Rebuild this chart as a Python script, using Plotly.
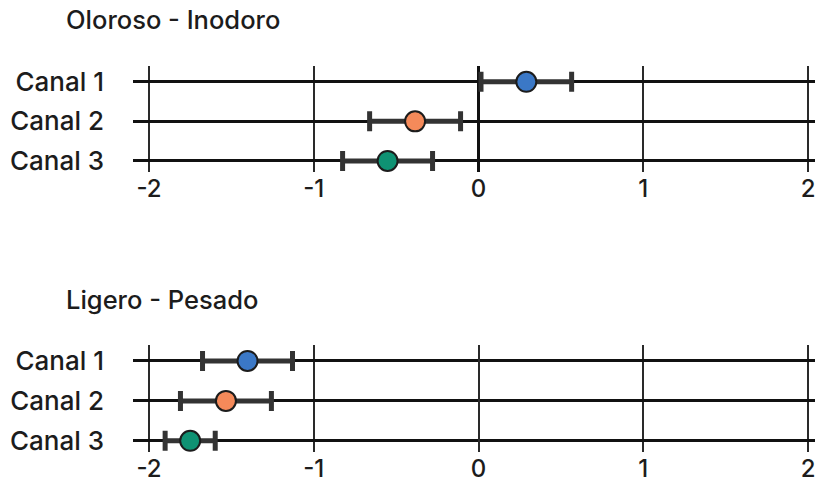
import plotly.graph_objects as go

# Contrast estimates per channel, with half-width of the interval
canales = ["Canal 1", "Canal 2", "Canal 3"]
colores = ["#3b78c6", "#f58a5a", "#0f9273"]

oloroso_media = [0.29, -0.385, -0.552]
oloroso_error = [0.275, 0.276, 0.273]

ligero_media = [-1.402, -1.533, -1.75]
ligero_error = [0.273, 0.276, 0.152]

x_ticks = [-2, -1, 0, 1, 2]
titulos = ["Oloroso - Inodoro", "Ligero - Pesado"]

W, H = 815, 483
FONT = "Inter"
INK = "#1c1c1c"

fig = go.Figure()

paneles = [
    ("x", "y", oloroso_media, oloroso_error),
    ("x2", "y2", ligero_media, ligero_error),
]
for xa, ya, medias, errores in paneles:
    for canal, color, m, e in zip(canales, colores, medias, errores):
        fig.add_trace(go.Scatter(
            x=[m], y=[canal], xaxis=xa, yaxis=ya,
            mode="markers",
            marker=dict(size=20, color=color, line=dict(width=2, color=INK)),
            error_x=dict(type="data", array=[e], visible=True,
                         color="#333333", thickness=5, width=10),
            showlegend=False, hoverinfo="skip",
        ))


def px_y(top, bottom):
    return [(H - bottom) / H, (H - top) / H]


x_dom = [133 / W, 1.0]
x_range = [-2.097, 2.042]

label_font = dict(family=FONT, size=26, color=INK, weight=500)
title_font = dict(family=FONT, size=25.5, color=INK, weight=500)
tick_font = dict(family=FONT, size=24, color=INK, weight=500)

xcommon = dict(
    range=x_range, domain=x_dom, tickvals=x_ticks,
    ticktext=[str(v) for v in x_ticks],
    showgrid=True, gridcolor="#2a2a2a", gridwidth=2,
    showline=False, ticks="", ticklabelstandoff=0,
    ticklabeloverflow="allow",
    tickfont=tick_font,
    automargin=False, fixedrange=True,
)
ycommon = dict(
    categoryorder="array", categoryarray=canales,
    showgrid=True, gridcolor="#111111", gridwidth=3,
    zeroline=False, showline=False, ticks="",
    ticklabelstandoff=28,
    tickfont=label_font,
    automargin=False, fixedrange=True,
)

fig.update_layout(
    width=W, height=H,
    margin=dict(l=0, r=0, t=0, b=0),
    paper_bgcolor="white", plot_bgcolor="white",
    xaxis=dict(**xcommon, anchor="y", zeroline=True,
               zerolinecolor="#111111", zerolinewidth=3),
    yaxis=dict(**ycommon, anchor="x", domain=px_y(66, 172),
               range=[2.28, -0.4]),
    xaxis2=dict(**xcommon, anchor="y2", zeroline=True,
                zerolinecolor="#2a2a2a", zerolinewidth=2),
    yaxis2=dict(**ycommon, anchor="x2", domain=px_y(345, 452),
                range=[2.28, -0.4]),
)

for titulo, ytop in zip(titulos, [19, 299]):
    fig.add_annotation(
        text=titulo, xref="paper", yref="paper",
        x=64 / W, y=(H - ytop) / H, xanchor="left", yanchor="middle",
        showarrow=False, font=title_font,
    )

fig.write_html("out.html")
